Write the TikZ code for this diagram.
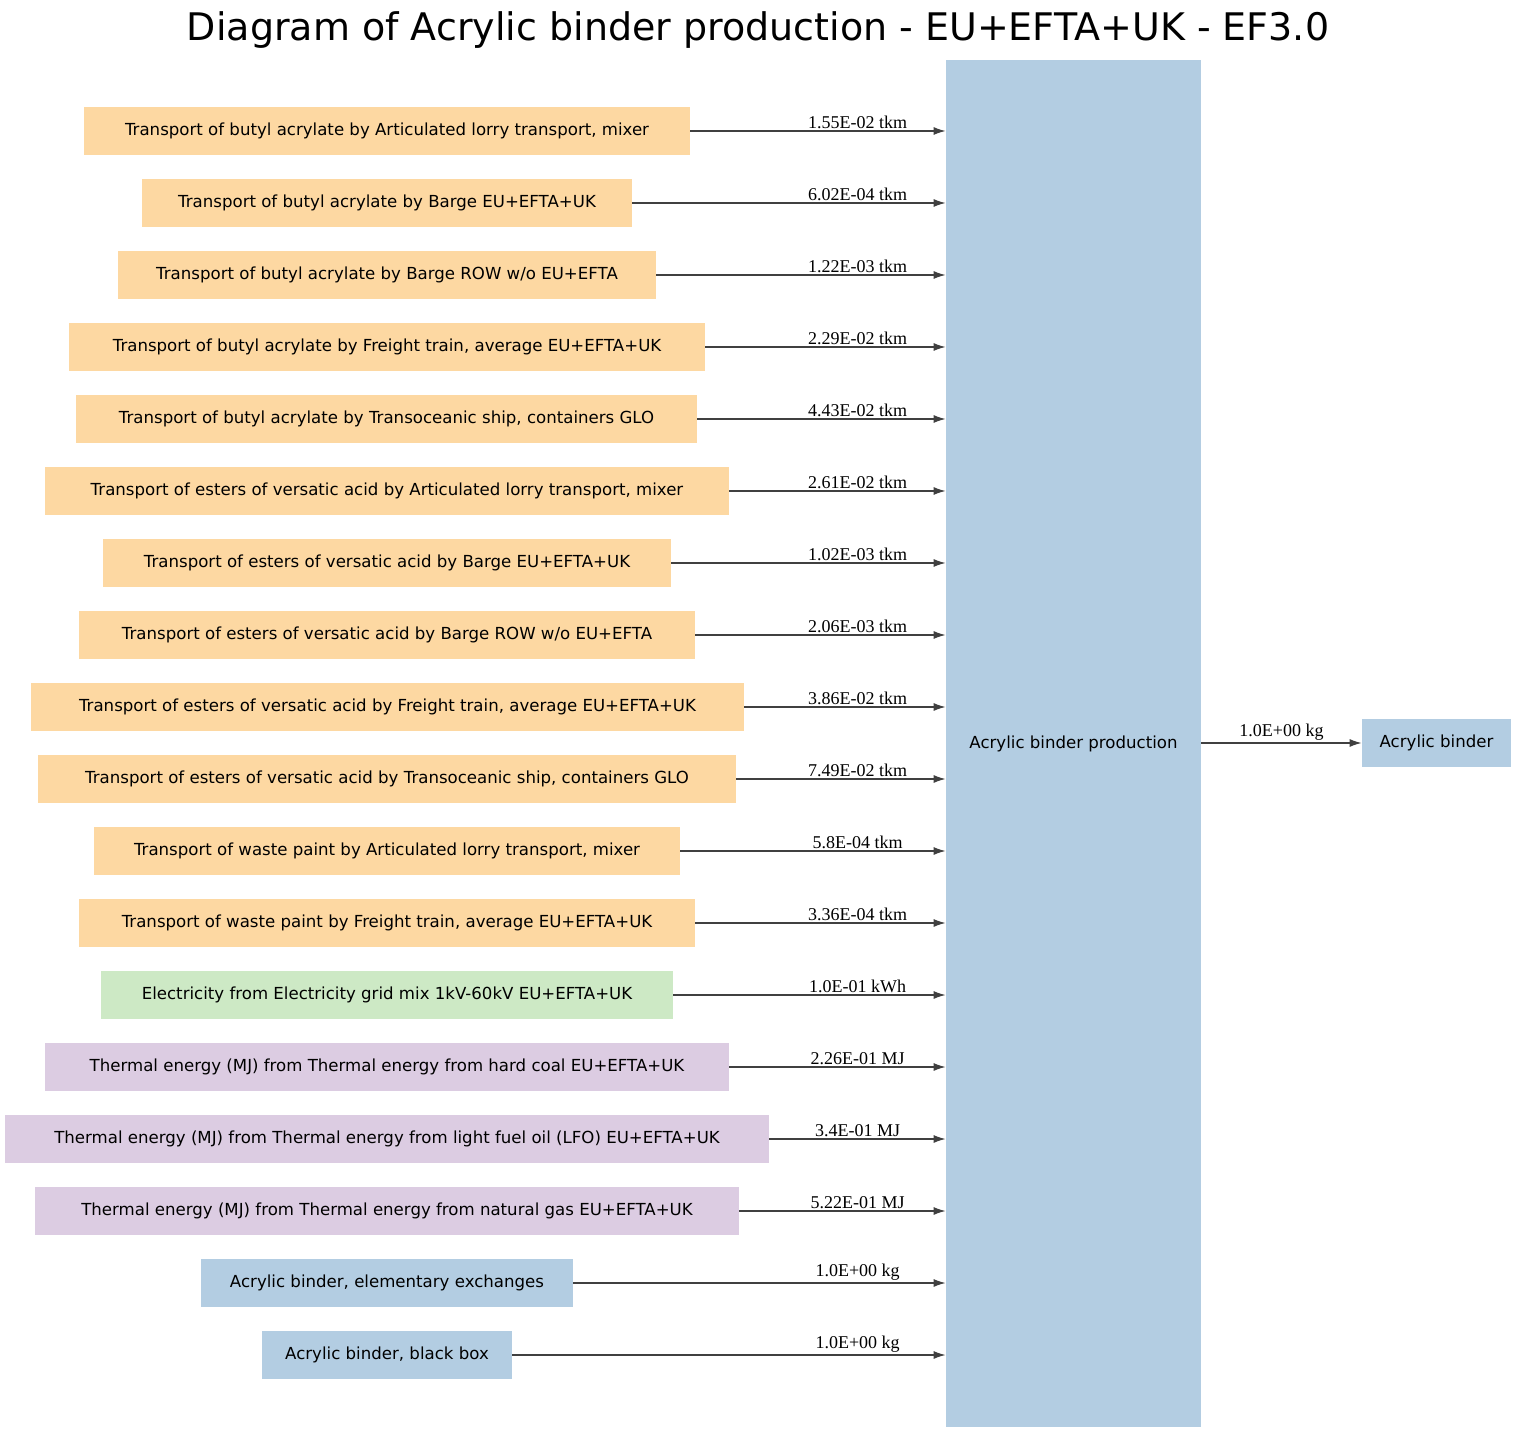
\documentclass[tikz,border=0pt]{standalone}
\usepackage{fontspec}
\setmainfont{DejaVu Sans}
\newfontfamily\lblfont{Liberation Serif}
\usetikzlibrary{arrows.meta}
\definecolor{cor}{HTML}{FDD8A2}
\definecolor{cgr}{HTML}{CDE9C5}
\definecolor{cpu}{HTML}{DCCCE2}
\definecolor{cbl}{HTML}{B3CDE2}
\begin{document}
\begin{tikzpicture}[x=0.5pt,y=-0.5pt,
  box/.style={fill=#1,inner sep=0,minimum height=24pt,font=\fontsize{8.3}{10}\selectfont},
  flow/.style={-{Latex[length=6pt,width=4pt]},draw=black!75,line width=0.6pt},
  lbl/.style={font=\lblfont\fontsize{9}{10}\selectfont,above,inner sep=1pt}]
\useasboundingbox (0,0) rectangle (1517,1433);
\node[font=\fontsize{19}{22}\selectfont] (T) at (758,30) {Diagram of Acrylic binder production - EU+EFTA+UK - EF3.0};
\node[box=cbl,minimum width=127.5pt,minimum height=683.5pt] (P) at (1073.5,743.5) {Acrylic binder production};
\node[box=cbl,minimum width=74.5pt] (O) at (1436.5,743) {Acrylic binder};
\draw[flow] (P.east |- O) -- node[lbl]{1.0E+00 kg} (O.west);
\foreach \i/\l/\r/\c/\t/\q in {
1/84/690/cor/{Transport of butyl acrylate by Articulated lorry transport, mixer}/{1.55E-02 tkm},
2/142/632/cor/{Transport of butyl acrylate by Barge EU+EFTA+UK}/{6.02E-04 tkm},
3/118/656/cor/{Transport of butyl acrylate by Barge ROW w/o EU+EFTA}/{1.22E-03 tkm},
4/69/705/cor/{Transport of butyl acrylate by Freight train, average EU+EFTA+UK}/{2.29E-02 tkm},
5/76/697/cor/{Transport of butyl acrylate by Transoceanic ship, containers GLO}/{4.43E-02 tkm},
6/45/729/cor/{Transport of esters of versatic acid by Articulated lorry transport, mixer}/{2.61E-02 tkm},
7/103/671/cor/{Transport of esters of versatic acid by Barge EU+EFTA+UK}/{1.02E-03 tkm},
8/79/695/cor/{Transport of esters of versatic acid by Barge ROW w/o EU+EFTA}/{2.06E-03 tkm},
9/31/744/cor/{Transport of esters of versatic acid by Freight train, average EU+EFTA+UK}/{3.86E-02 tkm},
10/38/736/cor/{Transport of esters of versatic acid by Transoceanic ship, containers GLO}/{7.49E-02 tkm},
11/94/680/cor/{Transport of waste paint by Articulated lorry transport, mixer}/{5.8E-04 tkm},
12/79/695/cor/{Transport of waste paint by Freight train, average EU+EFTA+UK}/{3.36E-04 tkm},
13/101/673/cgr/{Electricity from Electricity grid mix 1kV-60kV EU+EFTA+UK}/{1.0E-01 kWh},
14/45/729/cpu/{Thermal energy (MJ) from Thermal energy from hard coal EU+EFTA+UK}/{2.26E-01 MJ},
15/5/769/cpu/{Thermal energy (MJ) from Thermal energy from light fuel oil (LFO) EU+EFTA+UK}/{3.4E-01 MJ},
16/35/739/cpu/{Thermal energy (MJ) from Thermal energy from natural gas EU+EFTA+UK}/{5.22E-01 MJ},
17/201/573/cbl/{Acrylic binder, elementary exchanges}/{1.0E+00 kg},
18/262/512/cbl/{Acrylic binder, black box}/{1.0E+00 kg}}{
  \pgfmathsetmacro\yy{59+72*\i}
  \pgfmathsetmacro\ww{(\r-\l)/2}
  \node[box=\c,minimum width=\ww pt] (L\i) at ({(\l+\r)/2},\yy) {\t};
  \draw[flow] (L\i.east) -- (P.west |- L\i.east) node[lbl,pos=1,anchor=south,xshift=-44pt] {\q};
}
\end{tikzpicture}
\end{document}
